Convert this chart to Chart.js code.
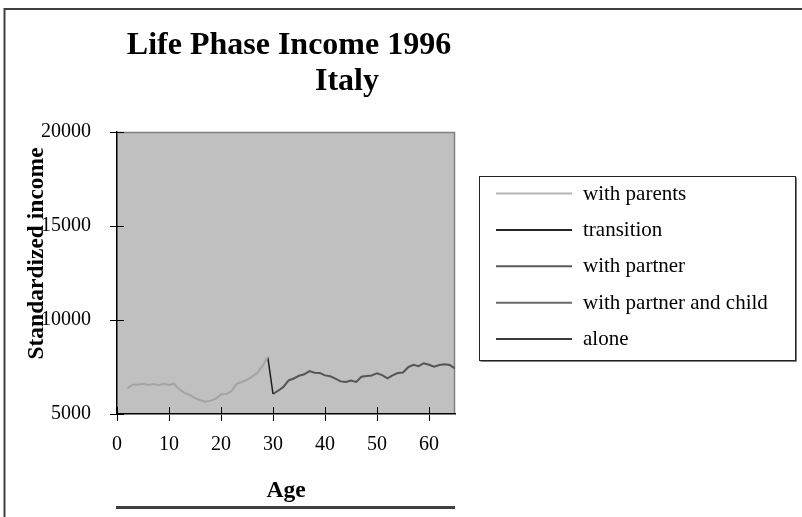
<!DOCTYPE html>
<html><head><meta charset="utf-8">
<script src="https://cdn.jsdelivr.net/npm/chart.js@4.4.0/dist/chart.umd.min.js"></script>
<style>
html,body{margin:0;padding:0;background:#fff;}
#wrap{position:relative;width:802px;height:517px;overflow:hidden;}
canvas{position:absolute;left:0;top:0;}
</style></head><body>
<div id="wrap"><canvas id="c" width="802" height="517"></canvas></div>
<script>
const titleLines = ["Life Phase Income 1996", "Italy"];
const xAxisTitle = "Age";
const yAxisTitle = "Standardized income";
const seriesNames = ["with parents", "transition", "with partner", "with partner and child", "alone"];
const xTicks = [0, 10, 20, 30, 40, 50, 60];
const yTicks = [5000, 10000, 15000, 20000];

const agesParents = [2,3,4,5,6,7,8,9,10,11,12,13,14,15,16,17,18,19,20,21,22,23,24,25,26,27,28,29];
const incomeParents = [6380,6560,6570,6610,6540,6600,6530,6610,6540,6610,6300,6120,6010,5840,5735,5650,5710,5810,6050,6060,6210,6600,6700,6820,6990,7195,7560,8030];

const agesTransition = [29, 30];
const incomeTransition = [8030, 6064];

const agesPartner = [30,31,32,33,34,35,36,37,38,39,40,41,42,43,44,45,46,47,48,49,50,51,52,53,54,55,56,57,58,59,60,61,62,63,64,65];
const incomePartner = [6064,6240,6440,6785,6890,7035,7115,7285,7195,7185,7055,7005,6885,6735,6700,6780,6710,6985,7015,7050,7170,7070,6900,7050,7180,7210,7490,7620,7545,7700,7620,7515,7610,7650,7603,7430];

const agesPartnerChild = [];
const incomePartnerChild = [];
const agesAlone = [];
const incomeAlone = [];

const toPts = (xs, ys) => xs.map((x, i) => ({x: x, y: ys[i]}));

const SERIF = '"Liberation Serif", "Times New Roman", serif';

const deco = {
  id: 'deco',
  beforeDraw(chart) {
    const {ctx, chartArea: a} = chart;
    ctx.save();
    ctx.fillStyle = '#fff';
    ctx.fillRect(0, 0, chart.width, chart.height);
    ctx.fillStyle = '#c0c0c0';
    ctx.fillRect(a.left, a.top, a.right - a.left, a.bottom - a.top);
    ctx.strokeStyle = '#808080';
    ctx.lineWidth = 1.5;
    ctx.beginPath();
    ctx.moveTo(a.left, a.top + 0.5);
    ctx.lineTo(a.right - 0.5, a.top + 0.5);
    ctx.lineTo(a.right - 0.5, a.bottom);
    ctx.stroke();
    ctx.restore();
  },
  afterDraw(chart) {
    const {ctx, chartArea: a} = chart;
    const xs = chart.scales.x, ys = chart.scales.y;
    ctx.save();
    // inner halves of tick marks
    ctx.strokeStyle = '#000';
    ctx.lineWidth = 1;
    ctx.beginPath();
    ys.ticks.forEach(t => {
      const py = Math.round(ys.getPixelForValue(t.value)) + 0.5;
      ctx.moveTo(a.left, py); ctx.lineTo(a.left + 7, py);
    });
    xs.ticks.forEach(t => {
      const px = Math.round(xs.getPixelForValue(t.value)) + 0.5;
      ctx.moveTo(px, a.bottom); ctx.lineTo(px, a.bottom - 7);
    });
    ctx.stroke();

    // title
    ctx.fillStyle = '#000';
    ctx.font = 'bold 32px ' + SERIF;
    ctx.textAlign = 'center';
    ctx.textBaseline = 'alphabetic';
    ctx.fillText(titleLines[0], 289, 54);
    ctx.fillText(titleLines[1], 347, 90);

    // axis titles
    ctx.font = 'bold 23.5px ' + SERIF;
    ctx.fillText(xAxisTitle, (a.left + a.right) / 2, 497);
    ctx.save();
    ctx.translate(43, 253.5);
    ctx.rotate(-Math.PI / 2);
    ctx.fillText(yAxisTitle, 0, 0);
    ctx.restore();

    // line under axis title
    ctx.strokeStyle = '#404040';
    ctx.lineWidth = 3;
    ctx.beginPath();
    ctx.moveTo(116, 507.5); ctx.lineTo(455, 507.5);
    ctx.stroke();

    // legend
    const lx = 479.5, ly = 176.5, lw = 316, lh = 184;
    ctx.strokeStyle = '#808080';
    ctx.lineWidth = 1;
    ctx.beginPath();
    ctx.moveTo(lx + lw + 1, ly + 1); ctx.lineTo(lx + lw + 1, ly + lh + 1); ctx.lineTo(lx + 1, ly + lh + 1);
    ctx.stroke();
    ctx.strokeStyle = '#222';
    ctx.strokeRect(lx, ly, lw, lh);
    ctx.font = '21px ' + SERIF;
    ctx.textAlign = 'left';
    const legendColors = ['#b4b4b4', '#262626', '#5a5a5a', '#6a6a6a', '#3a3a3a'];
    chart.data.datasets.forEach((ds, i) => {
      const y = 193.5 + i * 36.4;
      ctx.strokeStyle = legendColors[i];
      ctx.lineWidth = 2;
      ctx.beginPath();
      ctx.moveTo(496, y); ctx.lineTo(572, y);
      ctx.stroke();
      ctx.fillStyle = '#000';
      ctx.fillText(ds.label, 583, y + 6);
    });

    // page frame
    ctx.strokeStyle = '#404040';
    ctx.lineWidth = 2;
    ctx.beginPath();
    ctx.moveTo(4.5, 517); ctx.lineTo(4.5, 9); ctx.lineTo(802, 9);
    ctx.stroke();
    ctx.restore();
  }
};

new Chart(document.getElementById('c'), {
  type: 'line',
  data: {
    datasets: [
      {label: seriesNames[0], data: toPts(agesParents, incomeParents), borderColor: '#a4a4a4', borderWidth: 2},
      {label: seriesNames[1], data: toPts(agesTransition, incomeTransition), borderColor: '#1e1e1e', borderWidth: 1.5},
      {label: seriesNames[2], data: toPts(agesPartner, incomePartner), borderColor: '#555555', borderWidth: 2},
      {label: seriesNames[3], data: toPts(agesPartnerChild, incomePartnerChild), borderColor: '#666666', borderWidth: 2},
      {label: seriesNames[4], data: toPts(agesAlone, incomeAlone), borderColor: '#3a3a3a', borderWidth: 2}
    ]
  },
  options: {
    responsive: false,
    animation: false,
    devicePixelRatio: 1,
    layout: {padding: {left: 0, top: 132, right: 347, bottom: 0}},
    elements: {point: {radius: 0}, line: {tension: 0}},
    plugins: {legend: {display: false}, title: {display: false}, tooltip: {enabled: false}},
    scales: {
      x: {
        type: 'linear', min: 0, max: 65,
        afterBuildTicks: s => { s.ticks = xTicks.map(v => ({value: v})); },
        afterFit: s => { s.height = 103; },
        grid: {drawOnChartArea: false, drawTicks: true, tickLength: 7, color: '#000', lineWidth: 1},
        border: {display: true, color: '#000', width: 1.5},
        ticks: {font: {family: SERIF, size: 20}, color: '#000', padding: 12, maxRotation: 0, autoSkip: false,
                callback: v => String(v)}
      },
      y: {
        type: 'linear', min: 5000, max: 20000,
        afterBuildTicks: s => { s.ticks = yTicks.map(v => ({value: v})); },
        afterFit: s => { s.width = 117; },
        grid: {drawOnChartArea: false, drawTicks: true, tickLength: 7, color: '#000', lineWidth: 1},
        border: {display: true, color: '#000', width: 1.5},
        ticks: {font: {family: SERIF, size: 20}, color: '#000', padding: 19, autoSkip: false,
                callback: v => String(v)}
      }
    }
  },
  plugins: [deco]
});
</script>
</body></html>
